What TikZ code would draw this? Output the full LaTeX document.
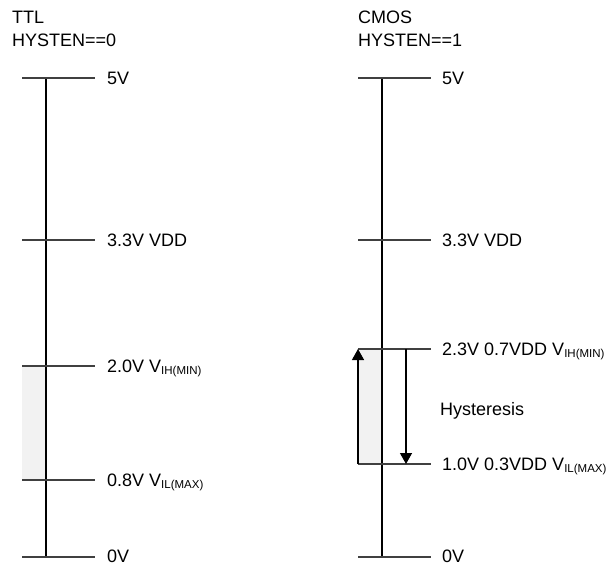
\documentclass[tikz,border=0pt]{standalone}
\usepackage{fontspec}
\setmainfont{Liberation Sans}
\usetikzlibrary{arrows.meta}
\definecolor{tickgray}{RGB}{64,64,64}
\definecolor{bandgray}{RGB}{242,242,242}
\newcommand{\vsub}[1]{\raisebox{-2.5pt}{\fontsize{11.5}{12}\selectfont #1}}

\begin{document}
\begin{tikzpicture}[
    x=1pt, y=-1pt,
    tickln/.style={draw=tickgray, line width=1.3pt},
    axisln/.style={draw=black, line width=1.3pt},
    band/.style={fill=bandgray},
    lvl/.style={anchor=base west, inner sep=0pt, font=\fontsize{18}{21}\selectfont},
    hdr/.style={anchor=base west, inner sep=0pt, font=\fontsize{18}{21}\selectfont},
    arr/.style={-{Triangle[width=12pt,length=11pt]}, line width=1.3pt, black},
]
\useasboundingbox (0,0) rectangle (612,564);

% headers
\node[hdr] (ttl)  at (12,24)  {TTL};
\node[hdr] (hys0) at (12,47)  {HYSTEN==0};
\node[hdr] (cmos) at (358,24) {CMOS};
\node[hdr] (hys1) at (358,47) {HYSTEN==1};

% left scale (TTL)
\coordinate (lTop) at (46,78);
\coordinate (lBot) at (46,557);
\coordinate (l5a) at (22,78);   \coordinate (l5b) at (95,78);
\coordinate (l33a) at (22,240); \coordinate (l33b) at (95,240);
\coordinate (lHa) at (22,366);  \coordinate (lHb) at (95,366);
\coordinate (lLa) at (22,480);  \coordinate (lLb) at (95,480);
\coordinate (l0a) at (22,557);  \coordinate (l0b) at (95,557);

\fill[band] (lHa) rectangle (46,480);
\draw[axisln] (lTop) -- (lBot);
\draw[tickln] (l5a) -- (l5b);
\draw[tickln] (l33a) -- (l33b);
\draw[tickln] (lHa) -- (lHb);
\draw[tickln] (lLa) -- (lLb);
\draw[tickln] (l0a) -- (l0b);

\node[lvl] (lv5)  at (107,84.4)  {5V};
\node[lvl] (lv33) at (107,246.4) {3.3V VDD};
\node[lvl] (lvH)  at (107,372.4) {2.0V V\vsub{IH(MIN)}};
\node[lvl] (lvL)  at (107,486.4) {0.8V V\vsub{IL(MAX)}};
\node[lvl] (lv0)  at (107,562.6) {0V};

% right scale (CMOS)
\coordinate (rTop) at (382,78);
\coordinate (rBot) at (382,557);
\coordinate (r5a) at (358,78);   \coordinate (r5b) at (431,78);
\coordinate (r33a) at (358,240); \coordinate (r33b) at (431,240);
\coordinate (rHa) at (358,349);  \coordinate (rHb) at (431,349);
\coordinate (rLa) at (358,464);  \coordinate (rLb) at (431,464);
\coordinate (r0a) at (358,557);  \coordinate (r0b) at (431,557);
\coordinate (dnTop) at (406,349);
\coordinate (dnBot) at (406,464);

\fill[band] (rHa) rectangle (382,464);
\draw[axisln] (rTop) -- (rBot);
\draw[tickln] (r5a) -- (r5b);
\draw[tickln] (r33a) -- (r33b);
\draw[tickln] (rHa) -- (rHb);
\draw[tickln] (rLa) -- (rLb);
\draw[tickln] (r0a) -- (r0b);

% hysteresis arrows
\draw[arr] (rLa) -- (rHa);
\draw[arr] (dnTop) -- (dnBot);

\node[lvl] (rv5)  at (442,84.4)  {5V};
\node[lvl] (rv33) at (442,246.4) {3.3V VDD};
\node[lvl] (rvH)  at (442,355.4) {2.3V 0.7VDD V\vsub{IH(MIN)}};
\node[lvl] (hyst) at (440,415.4) {Hysteresis};
\node[lvl] (rvL)  at (442,470.4) {1.0V 0.3VDD V\vsub{IL(MAX)}};
\node[lvl] (rv0)  at (442,562.6) {0V};

\end{tikzpicture}
\end{document}
